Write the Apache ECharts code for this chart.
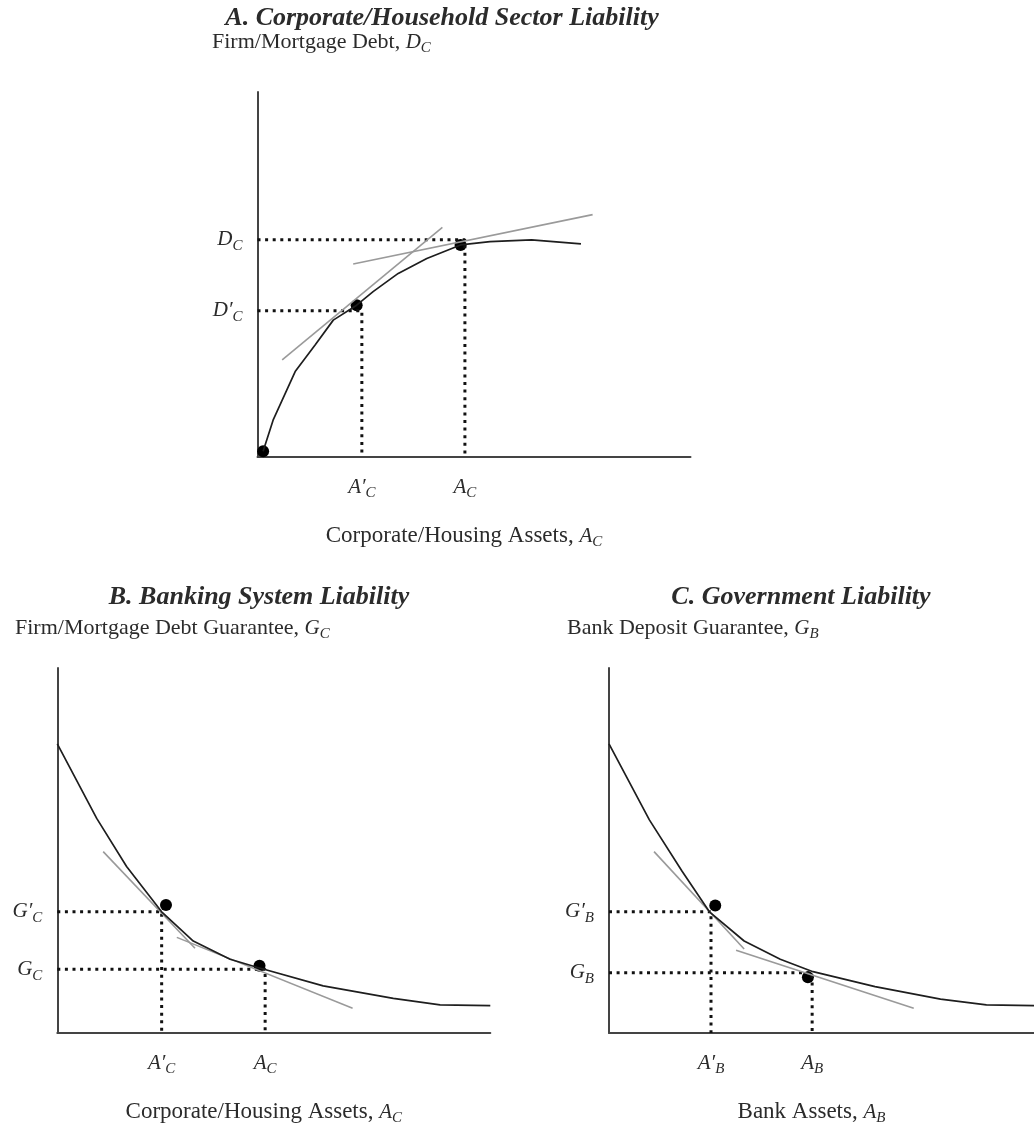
<!DOCTYPE html>
<html>
<head>
<meta charset="utf-8">
<title>Sector liabilities</title>
<script src="https://cdn.jsdelivr.net/npm/echarts@6/dist/echarts.min.js"></script>
<style>
    html, body { margin: 0; padding: 0; background: #fff; }
    #chart { width: 1034px; height: 1129px; }
</style>
</head>
<body>
<div id="chart"></div>
<script>
    // all panels use 0..100 units on both axes

    // A. corporate / household sector
    var curveA = [[1.3, 1.6], [3.6, 10.1], [8.7, 23.4], [13.3, 30.7], [17.5, 37.5], [22.9, 41.6], [26.7, 45.3],
        [32.5, 50.3], [39.1, 54.4], [46.9, 58.1], [53.7, 59.0], [63.3, 59.5], [74.7, 58.4]];
    var tangentA1 = [[5.7, 26.6], [42.7, 62.9]];
    var tangentA2 = [[22.1, 52.9], [77.4, 66.4]];
    var dotsA = [[1.3, 1.6], [22.9, 41.6], [46.9, 58.1]];
    var guideXA = [24.1, 47.9];
    var guideYA = [40.1, 59.5];
    var tickXA = [['A′', 'C'], ['A', 'C']];
    var tickYA = [['D′', 'C'], ['D', 'C']];

    // B. banking system
    var curveB = [[0, 79.2], [9.1, 58.8], [16.0, 45.6], [24.1, 33.2], [31.4, 25.2], [39.9, 20.2], [46.1, 18.0],
        [61.4, 12.9], [77.6, 9.5], [88.4, 7.7], [100, 7.5]];
    var tangentB1 = [[10.6, 49.7], [31.8, 23.2]];
    var tangentB2 = [[27.6, 26.2], [68.2, 6.8]];
    var dotsB = [[25.1, 35.1], [46.7, 18.4]];
    var guideXB = [24.1, 48.0];
    var guideYB = [33.2, 17.5];
    var tickXB = [['A′', 'C'], ['A', 'C']];
    var tickYB = [['G′', 'C'], ['G', 'C']];

    // C. government
    var curveC = [[0, 79.2], [9.5, 58.4], [17.2, 44.3], [23.7, 33.1], [31.8, 25.2], [40.3, 20.2], [48.0, 16.8],
        [62.6, 12.7], [78.0, 9.3], [88.8, 7.7], [100, 7.5]];
    var tangentC1 = [[10.6, 49.7], [31.8, 23.0]];
    var tangentC2 = [[29.9, 22.7], [71.7, 6.8]];
    var dotsC = [[25.0, 34.9], [46.8, 15.3]];
    var guideXC = [24.0, 47.8];
    var guideYC = [33.2, 16.5];
    var tickXC = [['A′', 'B'], ['A', 'B']];
    var tickYC = [['G′', 'B'], ['G', 'B']];

    var SERIF = '"Liberation Serif", "DejaVu Serif", serif';
    var INK = '#2b2b2b';

    // n = upright text, b = italic symbol, s = subscript
    var rich = {
        n: {fontFamily: SERIF, fontSize: 22, color: INK, fill: INK, lineHeight: 28},
        a: {fontFamily: SERIF, fontSize: 23, color: INK, fill: INK, lineHeight: 28},
        b: {fontFamily: SERIF, fontSize: 21, fontStyle: 'italic', color: INK, fill: INK, lineHeight: 28},
        s: {fontFamily: SERIF, fontSize: 15, fontStyle: 'italic', color: INK, fill: INK, verticalAlign: 'bottom'}
    };

    function sym(pair) {
        return '{b|' + pair[0] + '}{s|' + pair[1] + '}';
    }

    function tickFormatter(values, labels) {
        return function (v) {
            for (var i = 0; i < values.length; i++) {
                if (Math.abs(values[i] - v) < 1e-6) return sym(labels[i]);
            }
            return '';
        };
    }

    function xAxisFor(idx, values, labels, name) {
        return {
            type: 'value', gridIndex: idx, min: 0, max: 100,
            axisLine: {show: true, lineStyle: {color: '#444', width: 2}},
            axisTick: {show: false},
            splitLine: {show: false},
            axisLabel: {customValues: values, formatter: tickFormatter(values, labels), margin: 16, rich: rich},
            name: name, nameLocation: 'middle', nameGap: 65,
            nameTextStyle: {rich: rich, padding: [0, 20, 0, 0]}
        };
    }

    function yAxisFor(idx, values, labels) {
        return {
            type: 'value', gridIndex: idx, min: 0, max: 100,
            axisLine: {show: true, lineStyle: {color: '#444', width: 2}},
            axisTick: {show: false},
            splitLine: {show: false},
            axisLabel: {customValues: values, formatter: tickFormatter(values, labels), margin: 15, rich: rich}
        };
    }

    function panelSeries(idx, curve, t1, t2, gx, gy, dots) {
        var list = [];
        for (var i = 0; i < gx.length; i++) {
            list.push({
                type: 'line', xAxisIndex: idx, yAxisIndex: idx, symbol: 'none', silent: true,
                data: [[0, gy[i]], [gx[i], gy[i]], [gx[i], 0]],
                lineStyle: {color: '#111', width: 3, type: [3, 4.6]}
            });
        }
        [t1, t2].forEach(function (t) {
            list.push({
                type: 'line', xAxisIndex: idx, yAxisIndex: idx, symbol: 'none', silent: true,
                data: t, lineStyle: {color: '#9a9a9a', width: 1.6}
            });
        });
        list.push({
            type: 'line', xAxisIndex: idx, yAxisIndex: idx, symbol: 'none', silent: true,
            data: curve, lineStyle: {color: '#1e1e1e', width: 1.7}
        });
        list.push({
            type: 'scatter', xAxisIndex: idx, yAxisIndex: idx, symbolSize: 12, silent: true,
            data: dots, itemStyle: {color: '#000', opacity: 1}
        });
        return list;
    }

    function textEl(x, y, text, align, r) {
        return {
            type: 'text', x: x, y: y, silent: true,
            style: {text: text, rich: r || rich, align: align, verticalAlign: 'middle'}
        };
    }

    var titleRich = {
        t: {fontFamily: SERIF, fontSize: 26, fontStyle: 'italic', fontWeight: 'bold', color: INK, fill: INK}
    };

    var mychart = echarts.init(document.getElementById('chart'));
    var option = {
        backgroundColor: '#fff',
        animation: false,
        grid: [
            {left: 257.5, top: 92, width: 433, height: 365},
            {left: 57.3, top: 668, width: 433, height: 365},
            {left: 609, top: 668, width: 433, height: 365}
        ],
        xAxis: [
            xAxisFor(0, guideXA, tickXA, '{a|Corporate/Housing Assets, }' + sym(['A', 'C'])),
            xAxisFor(1, guideXB, tickXB, '{a|Corporate/Housing Assets, }' + sym(['A', 'C'])),
            xAxisFor(2, guideXC, tickXC, '{a|Bank Assets, }' + sym(['A', 'B']))
        ],
        yAxis: [
            yAxisFor(0, guideYA, tickYA),
            yAxisFor(1, guideYB, tickYB),
            yAxisFor(2, guideYC, tickYC)
        ],
        series: [].concat(
            panelSeries(0, curveA, tangentA1, tangentA2, guideXA, guideYA, dotsA),
            panelSeries(1, curveB, tangentB1, tangentB2, guideXB, guideYB, dotsB),
            panelSeries(2, curveC, tangentC1, tangentC2, guideXC, guideYC, dotsC)
        ),
        graphic: [
            textEl(442, 18, '{t|A. Corporate/Household Sector Liability}', 'center', titleRich),
            textEl(212, 42, '{n|Firm/Mortgage Debt, }' + sym(['D', 'C']), 'left'),
            textEl(259, 597, '{t|B. Banking System Liability}', 'center', titleRich),
            textEl(15, 628, '{n|Firm/Mortgage Debt Guarantee, }' + sym(['G', 'C']), 'left'),
            textEl(801, 597, '{t|C. Government Liability}', 'center', titleRich),
            textEl(567, 628, '{n|Bank Deposit Guarantee, }' + sym(['G', 'B']), 'left')
        ]
    };
    mychart.setOption(option);
</script>
</body>
</html>
